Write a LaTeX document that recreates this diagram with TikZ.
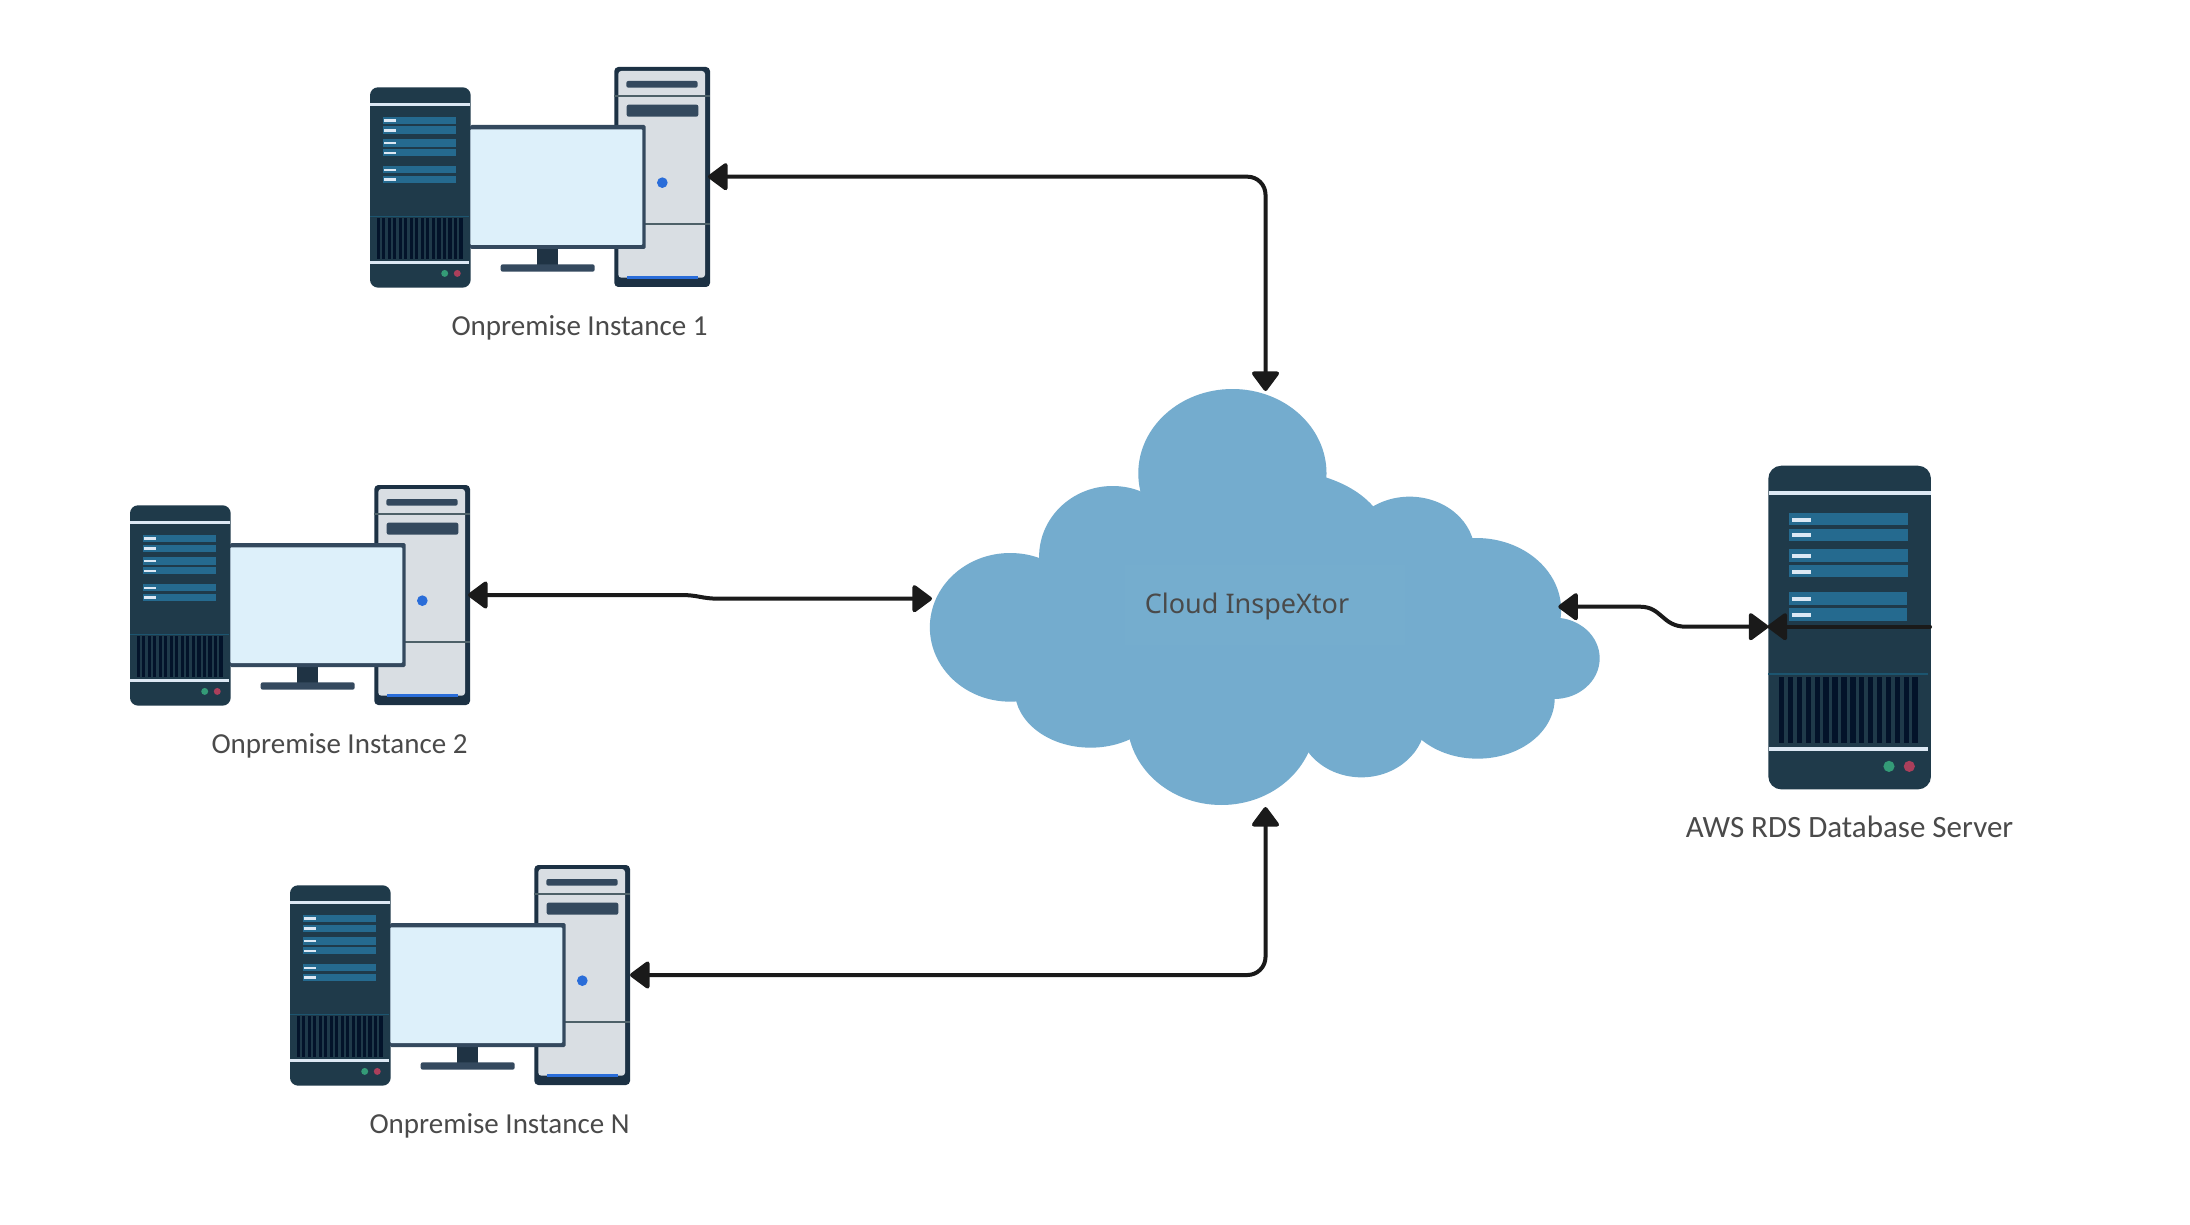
\documentclass[tikz,border=0pt]{standalone}
\usepackage{fontspec}
\setmainfont{Carlito}
\newfontfamily\cloudfont{Noto Sans}
\usetikzlibrary{arrows.meta}
\definecolor{towerdark}{HTML}{1F3A4A}
\definecolor{towerband}{HTML}{DCE8F4}
\definecolor{towerbar}{HTML}{256A8F}
\definecolor{towerline}{HTML}{1C5570}
\definecolor{grille}{HTML}{03132A}
\definecolor{ledgreen}{HTML}{349B77}
\definecolor{ledred}{HTML}{AB3F5B}
\definecolor{casedark}{HTML}{1C3144}
\definecolor{casefill}{HTML}{D9DEE3}
\definecolor{caseline}{HTML}{4D6068}
\definecolor{slate}{HTML}{34495E}
\definecolor{screenfill}{HTML}{DDF0FA}
\definecolor{standfill}{HTML}{1F3344}
\definecolor{ledblue}{HTML}{2A6DD9}
\definecolor{cloudfill}{HTML}{74ACCE}
\definecolor{cloudpatch}{HTML}{75ADCE}
\definecolor{labeltext}{HTML}{4A4A4A}
\definecolor{wire}{HTML}{1A1A1A}
\newcommand{\towerunit}[3]{%
\begin{scope}[shift={(#1,#2)},scale=#3]
 \fill[towerdark,rounded corners=#3*13pt] (0,0) rectangle (162.67,323.67);
 \fill[towerband] (0.3,25.67) rectangle (162.3,29.67);
 \foreach \ya/\yb/\xr in {47.33/59.67/139.67,63.33/75.67/139.67,83.67/96/139.67,99.33/111.67/139.67,126.67/139/138.67,142.67/155/138.67}
   \fill[towerbar] (20.67,\ya) rectangle (\xr,\yb);
 \foreach \yc in {54,69.67,90.33,106,133.3,149}
   \fill[towerband] (23.33,\yc-2) rectangle (42.33,\yc+2);
 \fill[towerline] (0,207.2) rectangle (159.3,208.8);
 \foreach \i in {0,...,15}
   \fill[grille] ({10.67+8.9*\i},211.33) rectangle ({16+8.9*\i},277.67);
 \fill[towerband] (0.3,281.33) rectangle (159.3,285);
 \fill[ledgreen] (120.67,300.67) circle[radius=5.6];
 \fill[ledred] (141,300.67) circle[radius=5.6];
\end{scope}}
\newcommand{\desktop}[2]{%
\begin{scope}[shift={(#1,#2)}]
 \towerunit{370}{87.3}{0.619}
 \begin{scope}[shift={(350,50)},scale=1/3]
  \fill[casedark,rounded corners=4pt] (793,51) rectangle (1080,711);
  \fill[casefill,rounded corners=3pt] (805,63) rectangle (1065,683);
  \fill[ledblue] (830,678) rectangle (1044,688);
  \fill[caseline] (793,134) rectangle (1080,140);
  \fill[caseline] (885,518) rectangle (1080,524);
  \fill[slate,rounded corners=2pt] (829,93) rectangle (1043,113);
  \fill[slate,rounded corners=2pt] (830,164) rectangle (1045,200);
  \fill[ledblue] (937,398) circle[radius=16];
  \fill[standfill] (561,590) rectangle (625,650);
  \fill[slate,rounded corners=2pt] (452,643) rectangle (734,665);
  \fill[slate,rounded corners=1.5pt] (360,225) rectangle (887,597);
  \fill[screenfill,rounded corners=1pt] (361,238) rectangle (877,585);
 \end{scope}
\end{scope}}
\tikzset{
 caption/.style={font=\fontsize{29}{33}\selectfont,text=labeltext,inner sep=0pt,anchor=center},
 wireline/.style={draw=wire,line width=4pt,rounded corners=18pt,
   {Triangle[length=21pt,width=30pt,round]}-{Triangle[length=21pt,width=30pt,round]}},
 wireend/.style={draw=wire,line width=4pt,line cap=round,-{Triangle[length=21pt,width=30pt,round]}},
}
\begin{document}
\begin{tikzpicture}[x=1pt,y=-1pt]
\path[use as bounding box,fill=white] (0,0) rectangle (2190,1225);
% cloud
\begin{scope}[shift={(900,370)},xscale=0.4591,yscale=1/3,cloudfill]
 \fill (724,310) ellipse[x radius=205,y radius=253];
 \fill (240,772) ellipse[x radius=175,y radius=223];
 \fill (463,560) ellipse[x radius=160,y radius=212];
 \fill (820,510) ellipse[x radius=240,y radius=210];
 \fill (1110,550) ellipse[x radius=142,y radius=170];
 \fill (1255,720) ellipse[x radius=185,y radius=216];
 \fill (1425,865) ellipse[x radius=99,y radius=122];
 \fill (1258,985) ellipse[x radius=168,y radius=181];
 \fill (1005,1050) ellipse[x radius=140,y radius=172];
 \fill (700,1050) ellipse[x radius=205,y radius=255];
 \fill (415,960) ellipse[x radius=165,y radius=173];
 \fill (760,780) ellipse[x radius=520,y radius=300];
\end{scope}
\fill[cloudpatch] (1125,565) rectangle (1405,645);
\node[font=\cloudfont\fontsize{27}{31}\selectfont,text=labeltext,inner sep=0pt] (cloudlabel) at (1247,606.5) {Cloud InspeXtor};
% computers
\desktop{0}{0}
\desktop{-240}{418}
\desktop{-80}{798}
\towerunit{1768.3}{465.7}{1}
% captions
\node[caption] (label1) at (579.5,328) {Onpremise Instance 1};
\node[caption] (label2) at (339.5,746) {Onpremise Instance 2};
\node[caption] (labelN) at (499.5,1126) {Onpremise Instance N};
\node[caption,font=\fontsize{31}{35}\selectfont] (labelaws) at (1849.5,827) {AWS RDS Database Server};
% ports
\coordinate (pc1) at (708,176.7);
\coordinate (pc2) at (468,595);
\coordinate (pcN) at (630,975);
\coordinate (cloudN) at (1265.5,391);
\coordinate (cloudW) at (932,598.7);
\coordinate (cloudS) at (1265.5,807);
\coordinate (cloudE) at (1558.3,606.7);
\coordinate (dbW) at (1768.3,626.7);
\coordinate (dbTip) at (1767.5,626.7);
\coordinate (dbE) at (1930,626.7);
% connectors
\draw[wireline] (pc1) -| (cloudN);
\draw[wireline] (pcN) -| (cloudS);
\draw[wireline,rounded corners=0pt] (pc2) -- (680,595) .. controls (700,595) and (700,598.7) .. (720,598.7) -- (cloudW);
\draw[wireline,rounded corners=0pt] (cloudE) -- (1640,606.7) .. controls (1662,606.7) and (1662,626.7) .. (1686,626.7) -- (dbW);
\draw[wireend] (dbE) -- (dbTip);
\end{tikzpicture}
\end{document}
